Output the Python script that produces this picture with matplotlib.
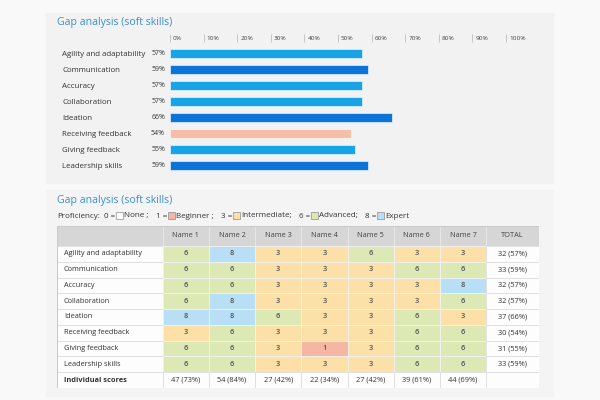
import matplotlib
matplotlib.use("Agg")
import matplotlib.pyplot as plt
import matplotlib.transforms as mtransforms
from matplotlib.patches import Rectangle

plt.rcParams["font.family"] = ["Open Sans", "DejaVu Sans"]

# ---- data ----
SKILLS = ["Agility and adaptability", "Communication", "Accuracy", "Collaboration",
          "Ideation", "Receiving feedback", "Giving feedback", "Leadership skills"]
SKILL_PCT = [57, 59, 57, 57, 66, 54, 55, 59]
BAR_COLORS = ["#17a5e7", "#0c74d7", "#17a5e7", "#17a5e7",
              "#0c74d7", "#f6bea9", "#17a5e7", "#0c74d7"]
X_TICKS = [0, 10, 20, 30, 40, 50, 60, 70, 80, 90, 100]

NAMES = ["Name 1", "Name 2", "Name 3", "Name 4", "Name 5", "Name 6", "Name 7"]
SCORES = [
    [6, 8, 3, 3, 6, 3, 3],
    [6, 6, 3, 3, 3, 6, 6],
    [6, 6, 3, 3, 3, 3, 8],
    [6, 8, 3, 3, 3, 3, 6],
    [8, 8, 6, 3, 3, 6, 3],
    [3, 6, 3, 3, 3, 6, 6],
    [6, 6, 3, 1, 3, 6, 6],
    [6, 6, 3, 3, 3, 6, 6],
]
TOTALS = ["32 (57%)", "33 (59%)", "32 (57%)", "32 (57%)",
          "37 (66%)", "30 (54%)", "31 (55%)", "33 (59%)"]
INDIVIDUAL = ["47 (73%)", "54 (84%)", "27 (42%)", "22 (34%)",
              "27 (42%)", "39 (61%)", "44 (69%)"]
LEVELS = [0, 1, 3, 6, 8]
LEVEL_NAMES = ["None ;", "Beginner ;", "Intermediate;", "Advanced;", "Expert"]
LEVEL_COLORS = {0: "#ffffff", 1: "#f6b6a4", 3: "#fde0a7", 6: "#dde9b5", 8: "#b8dff5"}

TITLE = "Gap analysis (soft skills)"
TITLE_BLUE = "#3a8fd3"
TXT = "#333333"

W, H = 600, 400
fig = plt.figure(figsize=(6, 4), dpi=100, facecolor="#f9f9f9")


def px_axes(x0, y0, x1, y1):
    return fig.add_axes([x0 / W, 1 - y1 / H, (x1 - x0) / W, (y1 - y0) / H])


def panel(x0, y0, x1, y1, color):
    fig.patches.append(Rectangle((x0 / W, 1 - y1 / H), (x1 - x0) / W, (y1 - y0) / H,
                                 transform=fig.transFigure, color=color, zorder=-5))


# ---- top panel: bar chart ----
panel(46, 13, 553, 183, "#f2f2f2")
fig.text(57 / W, 1 - 22 / H, TITLE, color=TITLE_BLUE, fontsize=7.6, va="center")

ax = px_axes(170, 42, 506, 173)
ax.set_facecolor("none")
y = list(range(len(SKILLS)))
ax.barh(y, SKILL_PCT, height=0.57, color=BAR_COLORS, edgecolor="white", linewidth=0.4)
ax.set_xlim(0, 100)
ax.set_ylim(len(SKILLS) - 0.5, -0.75)
for s in ax.spines.values():
    s.set_visible(False)

ax.xaxis.tick_top()
ax.set_xticks(X_TICKS, [f"{t}%" for t in X_TICKS])
ax.tick_params(axis="x", length=8 / 1.389, width=0.6, color="#bdbdbd",
               labelsize=4.6, labelcolor="#444444", pad=-5.2)
shift = mtransforms.ScaledTranslation(3 / 100, 0, fig.dpi_scale_trans)
for lab in ax.get_xticklabels():
    lab.set_ha("left")
    lab.set_transform(lab.get_transform() + shift)

ax.set_yticks(y, SKILLS)
ax.tick_params(axis="y", length=0, pad=(170 - 62) * 0.72, labelsize=5.7, labelcolor=TXT)
for lab in ax.get_yticklabels():
    lab.set_ha("left")
for i, v in enumerate(SKILL_PCT):
    ax.text(-1.5, i, f"{v}%", ha="right", va="center", fontsize=5, color=TXT)

# ---- bottom panel: score table ----
panel(46, 190, 553, 396, "#f4f4f4")
fig.text(57 / W, 1 - 201 / H, TITLE, color=TITLE_BLUE, fontsize=7.6, va="center")

renderer = fig.canvas.get_renderer()
LEG_Y = 216


def run(x, s):
    t = fig.text(x / W, 1 - LEG_Y / H, s, fontsize=5.8, color=TXT, va="center", ha="left")
    return x + t.get_window_extent(renderer).width


x = run(57, "Proficiency:") + 4
for lvl, name in zip(LEVELS, LEVEL_NAMES):
    x = run(x, f"{lvl} =") + 1
    fig.patches.append(Rectangle((x / W, 1 - (LEG_Y + 3.5) / H), 7 / W, 7 / H,
                                 transform=fig.transFigure, facecolor=LEVEL_COLORS[lvl],
                                 edgecolor="#8c8c8c", linewidth=0.5, zorder=2))
    x = run(x + 8, name) + 7

tax = px_axes(57, 226, 539, 388)
tax.axis("off")
col_w = [106] + [46.4] * len(NAMES) + [53]
col_x = [sum(col_w[:i]) for i in range(len(col_w) + 1)]
head_h, row_h = 20, 15.8
n_rows = len(SKILLS) + 1
row_y = [0] + [head_h + i * row_h for i in range(n_rows + 1)]
tax.set_xlim(0, col_x[-1])
tax.set_ylim(row_y[-1], 0)


def cell(c, r, face, text="", ha="center", weight="normal", color="#555555", edge="#dedede"):
    x0, x1 = col_x[c], col_x[c + 1]
    y0, y1 = row_y[r], row_y[r + 1]
    tax.add_patch(Rectangle((x0, y0), x1 - x0, y1 - y0, facecolor=face,
                            edgecolor=edge, linewidth=0.6))
    if text:
        tx = x0 + 7 if ha == "left" else (x0 + x1) / 2
        tax.text(tx, (y0 + y1) / 2, text, ha=ha, va="center", fontsize=5.3,
                 color=color, fontweight=weight)


header = [""] + NAMES + ["TOTAL"]
for c, h in enumerate(header):
    cell(c, 0, "#d6d6d6", h, color="#444444", edge="#e8e8e8")
for r, (skill, scores, tot) in enumerate(zip(SKILLS, SCORES, TOTALS), start=1):
    cell(0, r, "#fdfdfd", skill, ha="left", color=TXT)
    for c, v in enumerate(scores, start=1):
        cell(c, r, LEVEL_COLORS[v], str(v), weight="semibold", edge="#f2f2f2")
    cell(len(header) - 1, r, "#fdfdfd", tot, color=TXT)
last = n_rows
cell(0, last, "#fdfdfd", "Individual scores", ha="left", weight="bold", color=TXT)
for c, s in enumerate(INDIVIDUAL, start=1):
    cell(c, last, "#fdfdfd", s, color=TXT)
cell(len(header) - 1, last, "#fdfdfd")
tax.add_patch(Rectangle((0, 0), col_x[-1], row_y[-1], facecolor="none",
                        edgecolor="#c9c9c9", linewidth=0.7))

fig.savefig("out.png", dpi=100, facecolor=fig.get_facecolor())
